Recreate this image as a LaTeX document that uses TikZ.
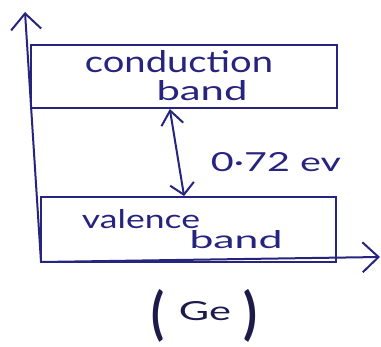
\documentclass[tikz,border=0pt]{standalone}
\usepackage{fontspec}
\setmainfont{Lato}
\usetikzlibrary{arrows.meta,calc}
\definecolor{ink}{HTML}{26247E}
\definecolor{inkdark}{HTML}{1C1B4A}
\begin{document}
\begin{tikzpicture}[x=1pt,y=-1pt,line width=2pt,
  bandbox/.style={draw=ink,rectangle,inner sep=0pt},
  hand/.style={anchor=base,text=ink,inner sep=0pt},
  axisarrow/.style={draw=ink,-{Straight Barb[length=16pt,width=30pt,line width=2pt]}},
  gaparrow/.style={draw=ink,{Straight Barb[length=14pt,width=22pt,line width=2pt]}-{Straight Barb[length=11pt,width=24pt,line width=2pt]}}]
\useasboundingbox (0,0) rectangle (381,347);
\fill[white] (0,0) rectangle (381,347);

% bands
\node[bandbox,minimum width=306pt,minimum height=63pt] (cb) at (184,76.5) {};
\node[bandbox,minimum width=295pt,minimum height=65pt] (vb) at (188.5,229.5) {};

% axes
\coordinate (O) at (41,262);
\coordinate (Y) at (25,12);
\coordinate (X) at (380,257);
\draw[axisarrow] (O) -- (Y);
\draw[axisarrow] (O) -- (X);

% energy gap
\draw[gaparrow] ($(cb.south west)!0.454!(cb.south east)$) -- ($(vb.north west)!0.485!(vb.north east)$);

% labels
\node[hand] (t1) at (179,73) {\resizebox{188pt}{22pt}{conduction}};
\node[hand] (t2) at (202,101) {\resizebox{91pt}{20pt}{band}};
\node[hand] (t3) at (141,229) {\resizebox{118pt}{19pt}{valence}};
\node[hand] (t4) at (236,249) {\resizebox{93pt}{18pt}{band}};
\node[hand] (gap) at (276,172) {\resizebox{130pt}{19pt}{0·72 ev}};
\node[hand,text=inkdark] (ge) at (204.5,321) {\raisebox{-13pt}{\resizebox*{13pt}{53pt}{\bfseries (}}\hspace{14pt}\resizebox{52pt}{19pt}{Ge}\hspace{12pt}\raisebox{-13pt}{\resizebox*{14pt}{53pt}{\bfseries )}}};
\end{tikzpicture}
\end{document}
